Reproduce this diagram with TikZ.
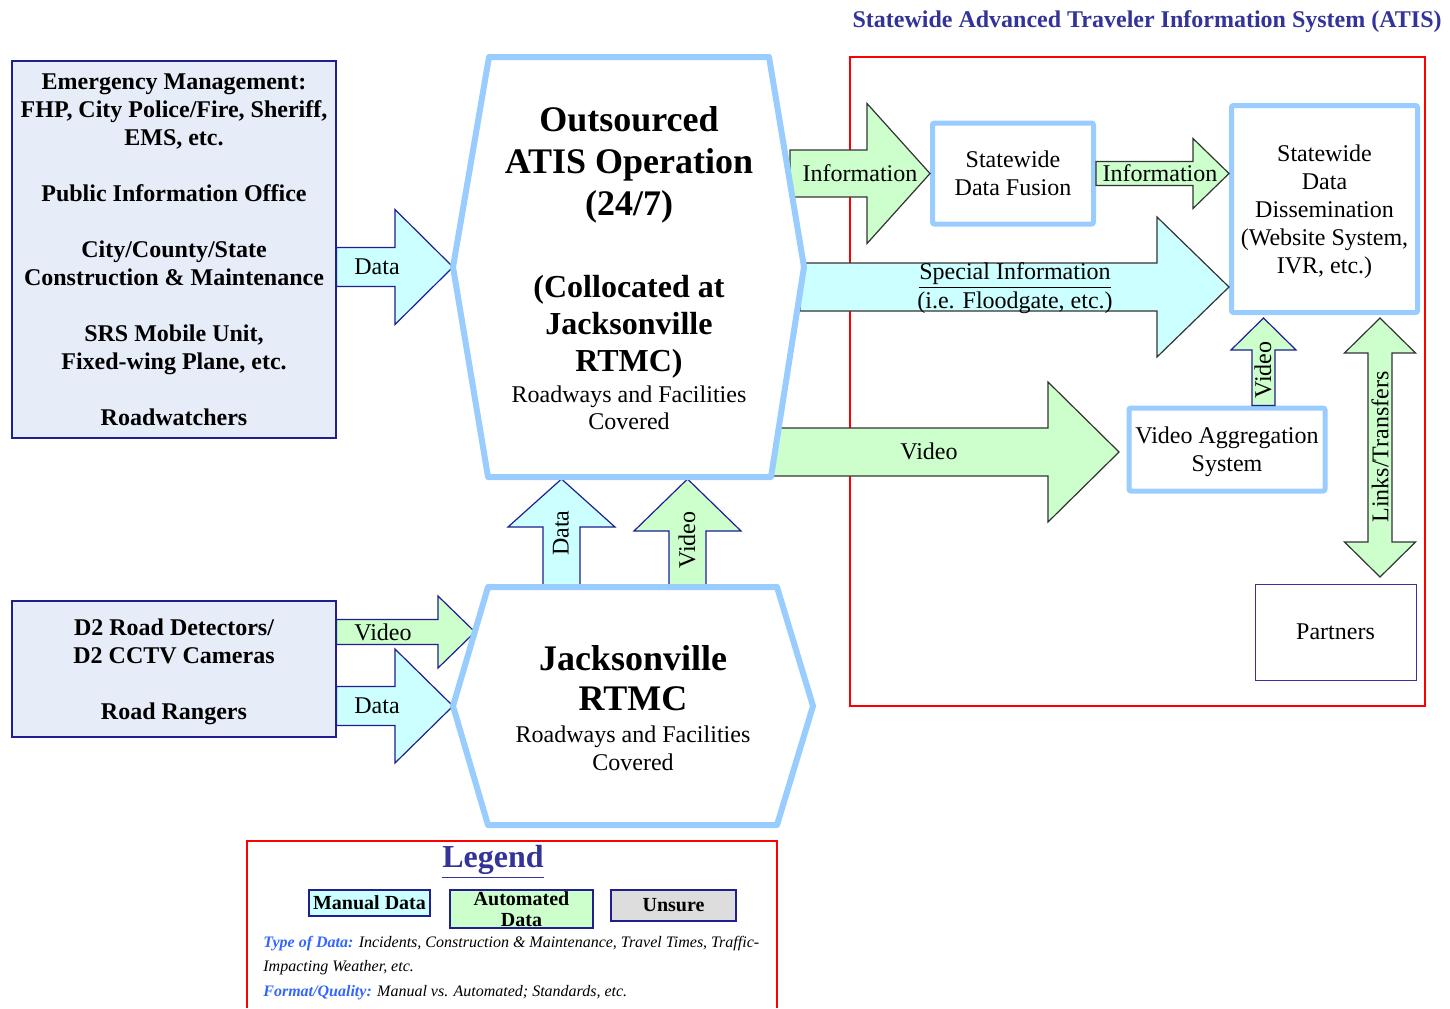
\documentclass[tikz,border=0pt]{standalone}
\usepackage{fontspec}
\setmainfont{Liberation Serif}
\usetikzlibrary{calc}
\definecolor{hexblue}{HTML}{99CCFF}
\definecolor{navy}{HTML}{1F1F8F}
\definecolor{cyanfill}{HTML}{CCFFFF}
\definecolor{greenfill}{HTML}{CCFFCC}
\definecolor{srcfill}{HTML}{E6ECF8}
\definecolor{unsurefill}{HTML}{DDDDDD}
\definecolor{titleblue}{HTML}{333399}
\definecolor{keyblue}{HTML}{3366FF}

% block arrows: style, start, tip, half shaft, half head, head length
\newcommand{\rightblock}[6]{%
  \filldraw[#1] ($(#2|-#3)+(0,-#4)$) -- ($(#3)+(-#6,-#4)$) -- ($(#3)+(-#6,-#5)$) -- (#3)
    -- ($(#3)+(-#6,#5)$) -- ($(#3)+(-#6,#4)$) -- ($(#2|-#3)+(0,#4)$) -- cycle;}
\newcommand{\upblock}[6]{%
  \filldraw[#1] ($(#3|-#2)+(-#4,0)$) -- ($(#3)+(-#4,#6)$) -- ($(#3)+(-#5,#6)$) -- (#3)
    -- ($(#3)+(#5,#6)$) -- ($(#3)+(#4,#6)$) -- ($(#3|-#2)+(#4,0)$) -- cycle;}
\newcommand{\updownblock}[6]{%
  \filldraw[#1] (#2) -- ($(#2)+(#5,#6)$) -- ($(#2)+(#4,#6)$) -- ($(#3)+(#4,-#6)$) -- ($(#3)+(#5,-#6)$)
    -- (#3) -- ($(#3)+(-#5,-#6)$) -- ($(#3)+(-#4,-#6)$) -- ($(#2)+(-#4,#6)$) -- ($(#2)+(-#5,#6)$) -- cycle;}

\begin{document}
\begin{tikzpicture}[x=0.5pt, y=-0.5pt,
    srcbox/.style={draw=navy, fill=srcfill, line width=0.6pt, align=center, inner sep=0pt,
      font=\bfseries\fontsize{12}{14}\selectfont},
    bluebox/.style={draw=hexblue, fill=white, line width=2.5pt, rounded corners=1pt, align=center,
      inner sep=0pt, font=\fontsize{12}{14}\selectfont},
    hexline/.style={draw=hexblue, fill=white, line width=3pt, line join=round},
    manualarrow/.style={fill=cyanfill, draw=navy, line width=0.6pt},
    autoarrow/.style={fill=greenfill, draw=navy, line width=0.6pt},
    manualarrowk/.style={fill=cyanfill, draw=black!80, line width=0.6pt},
    autoarrowk/.style={fill=greenfill, draw=black!80, line width=0.6pt},
    lbl/.style={font=\fontsize{12}{14}\selectfont, inner sep=0pt, align=center},
    keybox/.style={draw=navy, line width=0.6pt, inner sep=0pt, align=center,
      font=\bfseries\fontsize{10}{11}\selectfont},
    keytext/.style={font=\itshape\fontsize{8}{10}\selectfont, inner sep=0pt}]
  \useasboundingbox (0,0) rectangle (1450,1008);

  \node[anchor=base east, inner sep=0pt, text=titleblue, font=\bfseries\fontsize{12}{14}\selectfont] (title)
    at (1442,27) {Statewide Advanced Traveler Information System (ATIS)};
  \draw[red, line width=0.6pt] (850,57) rectangle (1425,706);

  % sources
  \node[srcbox, minimum width=162pt, minimum height=188.5pt] (emerg) at (174,249.5)
    {Emergency Management:\\FHP, City Police/Fire, Sheriff,\\EMS, etc.\\[14pt]
     Public Information Office\\[14pt]City/County/State\\Construction \& Maintenance\\[14pt]
     SRS Mobile Unit,\\Fixed-wing Plane, etc.\\[14pt]Roadwatchers};
  \node[srcbox, minimum width=162pt, minimum height=68pt, text depth=-2pt] (d2) at (174,669)
    {D2 Road Detectors/\\D2 CCTV Cameras\\[14pt]Road Rangers};

  % right side boxes
  \node[bluebox, minimum width=80.5pt, minimum height=50.5pt] (fusion) at (1013,173.5) {Statewide\\Data Fusion};
  \node[bluebox, minimum width=93pt, minimum height=103.5pt, text depth=-3pt] (diss) at (1324.5,209)
    {Statewide\\Data\\Dissemination\\(Website System,\\IVR, etc.)};
  \node[bluebox, minimum width=98pt, minimum height=41.5pt, text depth=-1.5pt] (agg) at (1227,449.5)
    {Video Aggregation\\System};
  \node[draw=titleblue, line width=0.5pt, lbl, minimum width=80.5pt, minimum height=48pt] (partners)
    at (1335.5,632) {Partners};

  \coordinate (h1tl) at (489,57);  \coordinate (h1tr) at (769,57);  \coordinate (h1r) at (804,267);
  \coordinate (h1br) at (771,477); \coordinate (h1bl) at (488,477); \coordinate (h1l) at (453,267);
  \coordinate (h2tl) at (488,587); \coordinate (h2tr) at (777,587); \coordinate (h2r) at (813,706);
  \coordinate (h2br) at (777,825); \coordinate (h2bl) at (488,825); \coordinate (h2l) at (453,706);
  \coordinate (vidtip) at (475,632);
  \coordinate (updata) at (561.5,479);
  \coordinate (upvideo) at (687.5,479);
  \coordinate (infostart) at (790,173);
  \coordinate (infotip) at (diss.west|-fusion.east);
  \coordinate (specstart) at (800,287);
  \coordinate (spectip) at (diss.west|-specstart);
  \coordinate (vidstart) at (771,452);
  \coordinate (vidbigtip) at (1119,452);
  \coordinate (aggtip) at (1263.5,318);
  \coordinate (linktop) at (1380,318);
  \coordinate (linkbot) at (1380,577);

  % arrows
  \rightblock{manualarrow}{emerg.east}{h1l}{19.5}{57.5}{58}
  \rightblock{autoarrow}{d2.east}{vidtip}{12.5}{36}{37}
  \rightblock{manualarrow}{d2.east}{h2l}{19.5}{57}{58}
  \upblock{manualarrow}{h2tl}{updata}{18.5}{53.5}{48}
  \upblock{autoarrow}{h2tl}{upvideo}{18.5}{53.5}{52}
  \rightblock{autoarrowk}{infostart}{fusion.west}{23.5}{70}{63}
  \rightblock{autoarrowk}{fusion.east}{infotip}{12}{35}{36}
  \rightblock{manualarrowk}{specstart}{spectip}{24}{70}{72}
  \rightblock{autoarrowk}{vidstart}{vidbigtip}{24}{70}{71}
  \upblock{autoarrow}{agg.north}{aggtip}{11.5}{32.5}{32}
  \updownblock{autoarrowk}{linktop}{linkbot}{12}{35.5}{35}

  \node[lbl] (datalbla) at (377,267) {Data};
  \node[lbl] (videolbla) at (383,632) {Video};
  \node[lbl] (datalblb) at (377,706) {Data};
  \node[lbl, rotate=90] (datalblc) at (561,533) {Data};
  \node[lbl, rotate=90] (videolblb) at (687,540) {Video};
  \node[lbl] (infolbla) at (860,173) {Information};
  \node[lbl] (infolblb) at (1160,173) {Information};
  \node[lbl, font=\fontsize{12}{14.5}\selectfont] (speclbl) at (1015,288)
    {\underline{Special Information}\\(i.e. Floodgate, etc.)};
  \node[lbl] (videolblc) at (929,451) {Video};
  \node[lbl, rotate=90] (videolbld) at (1263,370) {Video};
  \node[lbl, rotate=90] (linklbl) at (1380,447) {Links/Transfers};

  % centres
  \draw[hexline] (h1tl) -- (h1tr) -- (h1r) -- (h1br) -- (h1bl) -- (h1l) -- cycle;
  \draw[hexline] (h2tl) -- (h2tr) -- (h2r) -- (h2br) -- (h2bl) -- (h2l) -- cycle;
  \node[lbl, font=\bfseries\fontsize{18}{21}\selectfont] (atisa) at (629,165)
    {Outsourced\\ATIS Operation\\(24/7)};
  \node[lbl, font=\bfseries\fontsize{16}{18.5}\selectfont] (atisb) at (629,327)
    {(Collocated at\\Jacksonville\\RTMC)};
  \node[lbl, font=\fontsize{12}{13.5}\selectfont] (atisc) at (629,408) {Roadways and Facilities\\Covered};
  \node[lbl, font=\bfseries\fontsize{18}{20}\selectfont] (rtmca) at (633,678) {Jacksonville\\RTMC};
  \node[lbl] (rtmcb) at (633,748) {Roadways and Facilities\\Covered};

  % legend
  \draw[red, line width=0.6pt] (247,1008) -- (247,841) -- (777,841) -- (777,1008);
  \node[inner sep=0pt, text=titleblue, font=\bfseries\fontsize{16}{18}\selectfont] (legend)
    at (493,862) {\underline{Legend}};
  \node[keybox, fill=cyanfill, minimum width=60.5pt, minimum height=13pt] (keymanual) at (369.5,903) {Manual Data};
  \node[keybox, fill=greenfill, minimum width=71.5pt, minimum height=19pt,
    font=\bfseries\fontsize{10}{10.5}\selectfont] (keyauto) at (521.5,909) {Automated\\Data};
  \node[keybox, fill=unsurefill, minimum width=62.5pt, minimum height=15.5pt] (keyunsure) at (673.5,905.5) {Unsure};
  \node[keytext, anchor=base west] (keytype) at (263,947)
    {\textcolor{keyblue}{\textbf{Type of Data:}} Incidents, Construction \& Maintenance, Travel Times, Traffic-};
  \node[keytext, anchor=base west] (keyweather) at (263,971) {Impacting Weather, etc.};
  \node[keytext, anchor=base west] (keyformat) at (263,996)
    {\textcolor{keyblue}{\textbf{Format/Quality:}} Manual vs. Automated; Standards, etc.};
\end{tikzpicture}
\end{document}
